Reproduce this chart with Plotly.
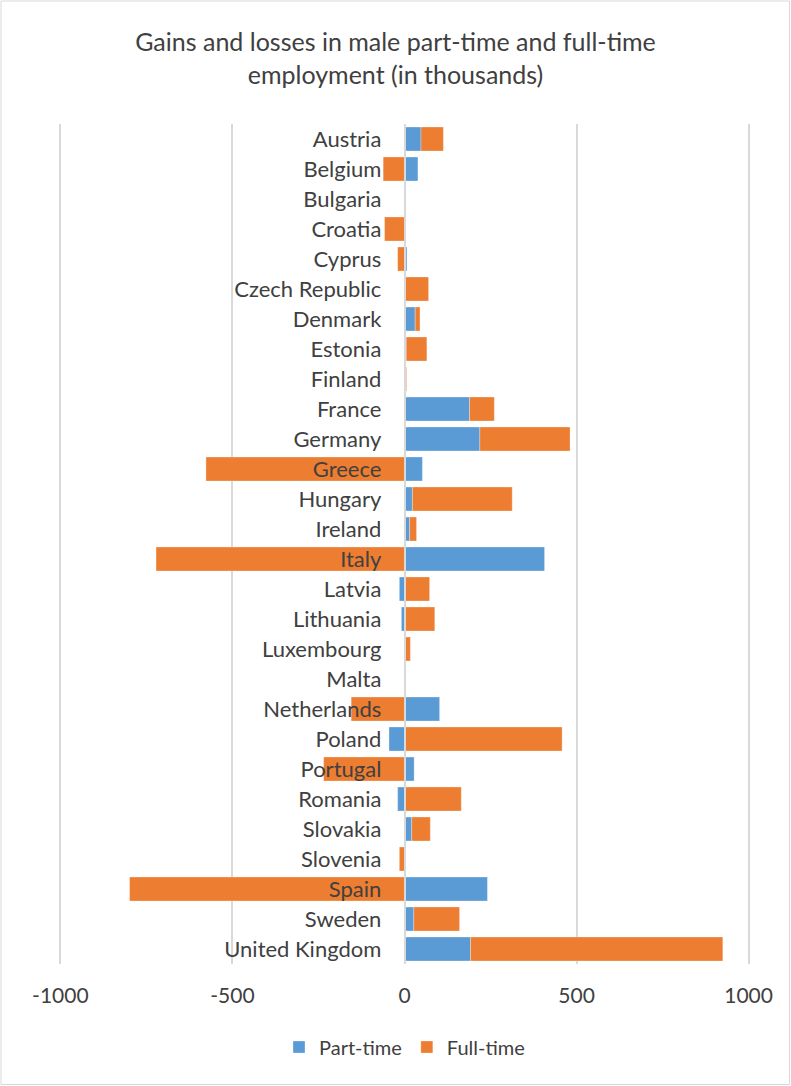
import plotly.graph_objects as go

countries = ["Austria", "Belgium", "Bulgaria", "Croatia", "Cyprus", "Czech Republic",
             "Denmark", "Estonia", "Finland", "France", "Germany", "Greece", "Hungary",
             "Ireland", "Italy", "Latvia", "Lithuania", "Luxembourg", "Malta",
             "Netherlands", "Poland", "Portugal", "Romania", "Slovakia", "Slovenia",
             "Spain", "Sweden", "United Kingdom"]
part_time = [48, 39, 0, 0, 7, 2, 31, 5, 0, 189, 219, 52, 23, 15, 407, -15, -9, 2, 0,
             102, -45, 28, -20, 21, 0, 241, 27, 192]
full_time = [65, -62, 0, -58, -20, 68, 14, 60, 6, 72, 262, -577, 290, 20, -722, 73, 88,
             15, 4, -155, 458, -235, 165, 54, -15, -799, 133, 733]
x_ticks = [-1000, -500, 0, 500, 1000]
x_tick_labels = ["-1000", "-500", "0", "500", "1000"]

W, H = 791, 1086
L, R, T, B = 59, 41, 124, 122
pw, ph = W - L - R, H - T - B

fig = go.Figure()
fig.add_trace(go.Bar(y=countries, x=part_time, orientation="h", name="Part-time",
                     marker=dict(color="#5B9BD5", line=dict(width=0.6, color="rgba(255,255,255,0.5)"))))
fig.add_trace(go.Bar(y=countries, x=full_time, orientation="h", name="Full-time",
                     marker=dict(color="#ED7D31", line=dict(width=0.6, color="rgba(255,255,255,0.5)"))))

font_family = "Lato, 'Open Sans', sans-serif"
fig.update_layout(
    width=W, height=H,
    margin=dict(l=L, r=R, t=T, b=B, autoexpand=False),
    barmode="relative",
    bargap=0.2,
    paper_bgcolor="white",
    plot_bgcolor="white",
    font=dict(family=font_family, color="#404040", size=22),
    title=dict(text="Gains and losses in male part-time and full-time<br>employment (in thousands)",
               x=0.5, xanchor="center", xref="container",
               y=1 - 51 / H, yanchor="middle", yref="container",
               font=dict(size=25, color="#404040", family=font_family)),
    xaxis=dict(range=[-1004, 1004], tickvals=x_ticks, ticktext=x_tick_labels,
               showgrid=True, gridcolor="#D9D9D9",
               gridwidth=1.5, zeroline=False, showline=False, ticks="",
               ticklabelstandoff=17, tickfont=dict(size=21, color="#404040"), automargin=False),
    yaxis=dict(autorange="reversed", anchor="free", position=0.5, showgrid=False,
               showline=True, linecolor="#D9D9D9", linewidth=1.5, ticks="",
               ticklabelstandoff=18, tickfont=dict(size=22, color="#404040"), automargin=False),
    legend=dict(orientation="h", x=0.5, xanchor="center", y=(T + ph - 1047) / ph,
                yanchor="middle", font=dict(size=20, color="#404040"), itemwidth=30,
                traceorder="normal"),
    shapes=[dict(type="rect", xref="paper", yref="paper",
                 x0=(1 - L) / pw, x1=(W - 1.5 - L) / pw,
                 y0=(T + ph - (H - 1.5)) / ph, y1=(T + ph - 1) / ph,
                 line=dict(color="#D9D9D9", width=1), layer="below")],
)

fig.write_html("out.html", config={"displayModeBar": False},
               post_script="document.body.style.margin='0';")
